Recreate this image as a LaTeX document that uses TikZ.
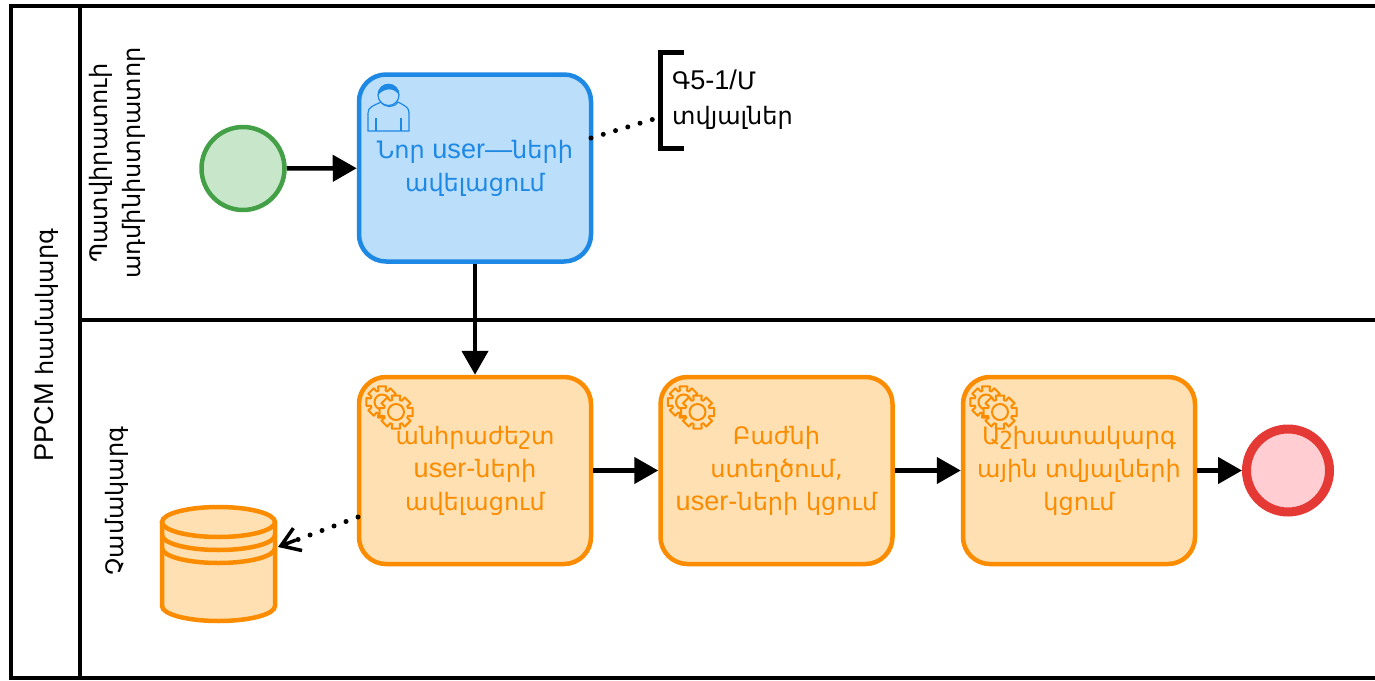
\documentclass[tikz,border=0pt]{standalone}
\usepackage{fontspec}
\usepackage{xcolor}
\usetikzlibrary{arrows.meta}
\setmainfont[Scale=1.13]{Liberation Sans}
\newfontfamily\armfont{DejaVu Sans}
\definecolor{startfill}{HTML}{C8E6C9}
\definecolor{startline}{HTML}{43A047}
\definecolor{userfill}{HTML}{BBDEFB}
\definecolor{userline}{HTML}{1E88E5}
\definecolor{autofill}{HTML}{FFE0B2}
\definecolor{autoline}{HTML}{FB8C00}
\definecolor{endfill}{HTML}{FFCDD2}
\definecolor{endline}{HTML}{E53935}
\tikzset{
    lane/.style={line width=4.5pt, black},
    flow/.style={line width=4.5pt, -{Triangle[length=24pt,width=26pt]}},
    assoc/.style={line width=5pt, line cap=round, dash pattern=on 0pt off 12.8pt},
    label/.style={font=\fontsize{24}{33}\selectfont, align=center, inner sep=0pt},
    task/.style={rounded corners=27pt, line width=4.5pt, minimum width=232pt, minimum height=187pt,
        font=\fontsize{24}{33}\selectfont, align=center, inner sep=0pt,
        execute at begin node=\vspace*{4pt}},
    usertask/.style={task, draw=userline, fill=userfill, text=userline},
    autotask/.style={task, draw=autoline, fill=autofill, text=autoline},
    storeline/.style={autoline, line width=4.5pt},
    gearwheel/.pic={
        \draw[autoline, fill=autofill, line width=2pt, line join=round] (-14:#1)
            \foreach \a in {0,45,...,315} { -- (\a-14:#1) -- (\a+14:#1) -- (\a+18:0.74*#1) -- (\a+27:0.74*#1) } -- cycle;
        \draw[autoline, line width=2pt] (0,0) circle[radius=0.47*#1];
    },
    gearpair/.pic={
        \pic at (23,25) {gearwheel=16};
        \pic at (37,35) {gearwheel=17};
    },
    person/.pic={
        \draw[userline, line width=1.2pt] (9,56) -- (9,38) .. controls (9,32) and (14,31) .. (22,27)
            .. controls (26,33) and (35,33) .. (39,27) .. controls (46,31) and (50,32) .. (50,38) -- (50,56) -- cycle;
        \draw[userline, line width=1.2pt] (17,56) -- (17,43) (42,56) -- (42,43);
        \draw[userline, fill=userfill, line width=1.2pt] (29.5,20) circle[radius=10.5];
        \fill[userline] (19,20) .. controls (19,5) and (40,5) .. (40,20) .. controls (35,12) and (25,13) .. (19,20) -- cycle;
    }
}
\begin{document}
\begin{tikzpicture}[x=1pt, y=-1pt]
    \clip (0,0) rectangle (1375,680);
    \fill[white] (0,0) rectangle (1375,680);

    % Pool and lanes
    \draw[lane] (1385,6) -- (11,6) -- (11,678) -- (1385,678);
    \draw[lane] (80,6) -- (80,678);
    \draw[lane] (80,320) -- (1385,320);
    \node[label, rotate=90] (pool) at (47,345) {PPCM {\armfont համակարգ}};
    \node[label, rotate=90] (lanetop) at (117,163) {\armfont Պատվիրատուի\\\armfont ադմինիստրատոր};
    \node[label, rotate=90] (lanebottom) at (117,501) {\armfont Չամակարգ};

    % Events
    \node[circle, draw=startline, fill=startfill, line width=4.5pt, minimum size=83pt, inner sep=0pt] (start) at (243,168.5) {};
    \node[circle, draw=endline, fill=endfill, line width=9pt, minimum size=83pt, inner sep=0pt] (finish) at (1288,470.5) {};

    % Tasks
    \node[usertask] (adduser) at (475,168) {{\armfont Նոր} user—{\armfont ների}\\\armfont ավելացում};
    \foreach \x/\name/\txt in {475/autousers/{{\armfont անհրաժեշտ}\\user-{\armfont ների}\\\armfont ավելացում},
                               776.5/department/{{\armfont Բաժնի}\\{\armfont ստեղծում,}\\user-{\armfont ների կցում}},
                               1079/staffdata/{{\armfont Աշխատակարգ}\\{\armfont ային տվյալների}\\\armfont կցում}} {
        \node[autotask] (\name) at (\x,470.5) {\txt};
    }

    % Task icons
    \pic at (359,75) {person};
    \foreach \x in {359,660.5,963} {
        \pic at (\x,377) {gearpair};
    }

    % Data store
    \draw[storeline, fill=autofill] (162,522) -- (162,606) arc[start angle=180, end angle=0, x radius=56.5, y radius=15] -- (275,522);
    \draw[storeline, fill=autofill] (218.5,522) ellipse[x radius=56.5, y radius=15];
    \draw[storeline] (162,535) arc[start angle=180, end angle=0, x radius=56.5, y radius=15];
    \draw[storeline] (162,548) arc[start angle=180, end angle=0, x radius=56.5, y radius=15];
    \coordinate (store) at (278,547);

    % Data note
    \draw[line width=5pt] (684,52) -- (660,52) -- (660,148) -- (684,148);
    \node[anchor=west, font=\fontsize{24}{35}\selectfont, align=left, inner sep=0pt] (note) at (672,100) {{\armfont Գ}5-1/{\armfont Մ}\\\armfont տվյալներ};
    \coordinate (noteend) at (654,119);
    \coordinate (useredge) at (591,138);
    \coordinate (autoedge) at (358,517);

    % Sequence flows
    \draw[flow] (start) -- (adduser);
    \draw[flow] (adduser) -- (autousers);
    \draw[flow] (autousers) -- (department);
    \draw[flow] (department) -- (staffdata);
    \draw[flow] (staffdata) -- (finish);

    % Associations
    \draw[assoc] (useredge) -- (noteend);
    \draw[assoc] (autoedge) -- (store);
    \draw[line width=3.5pt, -{Straight Barb[length=18pt,width=24pt]}] (296,540) -- (store);
\end{tikzpicture}
\end{document}
